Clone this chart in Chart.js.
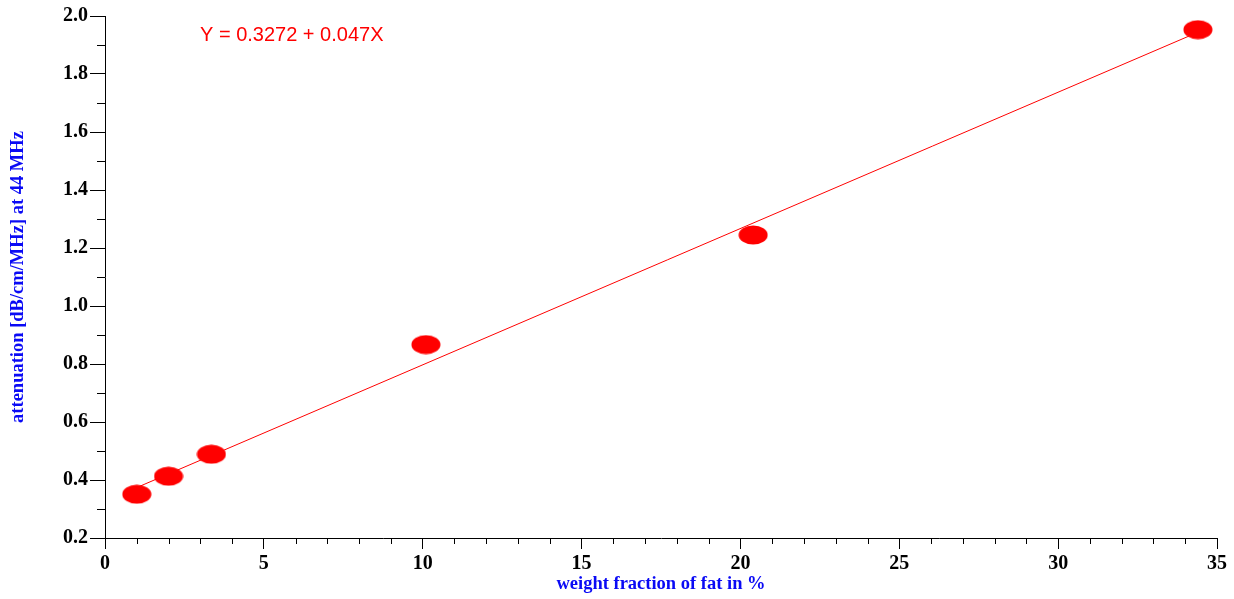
<!DOCTYPE html>
<html>
<head>
<meta charset="utf-8">
<script src="https://cdn.jsdelivr.net/npm/chart.js@4"></script>
<style>
  html, body { margin: 0; padding: 0; background: #fff; }
  #wrap { width: 1234px; height: 599px; }
</style>
</head>
<body>
<div id="wrap"><canvas id="chart1"></canvas></div>
<script>
// measured points
const fatPercent = [1.0, 2.0, 3.35, 10.1, 20.4, 34.4]
const attenuation = [0.351, 0.413, 0.489, 0.867, 1.245, 1.953]

// regression line endpoints
const fitX = [1.0, 34.4]
const fitY = [0.374, 1.944]

const equationText = 'Y = 0.3272 + 0.047X'
const xTitle = 'weight fraction of fat in %'
const yTitle = 'attenuation [dB/cm/MHz] at 44 MHz'

const red = 'rgb(255, 0, 0)'
const blue = 'rgb(10, 10, 245)'

// ellipse marker
const dot = document.createElement('canvas')
dot.width = 30
dot.height = 20
const dctx = dot.getContext('2d')
dctx.fillStyle = red
dctx.beginPath()
dctx.ellipse(15, 10, 14.5, 9.5, 0, 0, Math.PI * 2)
dctx.fill()

const extras = {
	id: 'extras',
	afterDraw(chart) {
		const ctx = chart.ctx
		const xs = chart.scales.x
		const ys = chart.scales.y
		const area = chart.chartArea
		ctx.save()
		ctx.strokeStyle = '#000'
		ctx.lineWidth = 1
		ctx.beginPath()
		for (let v = 0; v <= 35; v++) {
			if (v % 5 === 0) continue
			const px = Math.round(xs.getPixelForValue(v)) + 0.5
			ctx.moveTo(px, area.bottom)
			ctx.lineTo(px, area.bottom + 6)
		}
		for (let i = 3; i < 20; i += 2) {
			const py = Math.round(ys.getPixelForValue(i / 10)) + 0.5
			ctx.moveTo(area.left - 8, py)
			ctx.lineTo(area.left, py)
		}
		ctx.stroke()

		ctx.fillStyle = red
		ctx.font = '20px "Liberation Sans", Arial, sans-serif'
		ctx.textBaseline = 'middle'
		ctx.fillText(equationText, 200, 35)
		ctx.restore()
	},
}

const chartData = {
	datasets: [
		{
			data: fatPercent.map((x, i) => ({ x: x, y: attenuation[i] })),
			pointStyle: dot,
			pointRadius: 15,
			showLine: false,
		},
		{
			type: 'line',
			data: fitX.map((x, i) => ({ x: x, y: fitY[i] })),
			borderColor: red,
			borderWidth: 1,
			pointRadius: 0,
			showLine: true,
		},
	],
}

const tickFont = { family: '"Liberation Serif", "Times New Roman", serif', size: 20, weight: 'bold' }
const titleFont = { family: '"Liberation Serif", "Times New Roman", serif', size: 18.5, weight: 'bold' }

const optionsData = {
	responsive: true,
	maintainAspectRatio: false,
	animation: false,
	layout: { padding: { top: 15, right: 17, left: 0, bottom: 0 } },
	plugins: {
		legend: { display: false },
		tooltip: { enabled: false },
	},
	scales: {
		x: {
			type: 'linear',
			min: 0,
			max: 35,
			ticks: { stepSize: 5, color: '#000', font: tickFont, padding: 3 },
			grid: { drawOnChartArea: false, tickLength: 11, color: '#000', tickColor: '#000' },
			border: { color: '#000', width: 1 },
			title: { display: true, text: xTitle, color: blue, font: titleFont, padding: { top: 0, bottom: 4 } },
			afterFit: scale => { scale.height = 61 },
		},
		y: {
			type: 'linear',
			min: 0.2,
			max: 2.0,
			ticks: { stepSize: 0.2, color: '#000', font: tickFont, padding: 2, callback: v => v.toFixed(1) },
			grid: { drawOnChartArea: false, tickLength: 15, color: '#000', tickColor: '#000' },
			border: { color: '#000', width: 1 },
			title: { display: true, text: yTitle, color: blue, font: titleFont, padding: { top: 7, bottom: 0 } },
			afterFit: scale => { scale.width = 105 },
		},
	},
}

new Chart('chart1', { type: 'scatter', data: chartData, options: optionsData, plugins: [extras] })
</script>
</body>
</html>
